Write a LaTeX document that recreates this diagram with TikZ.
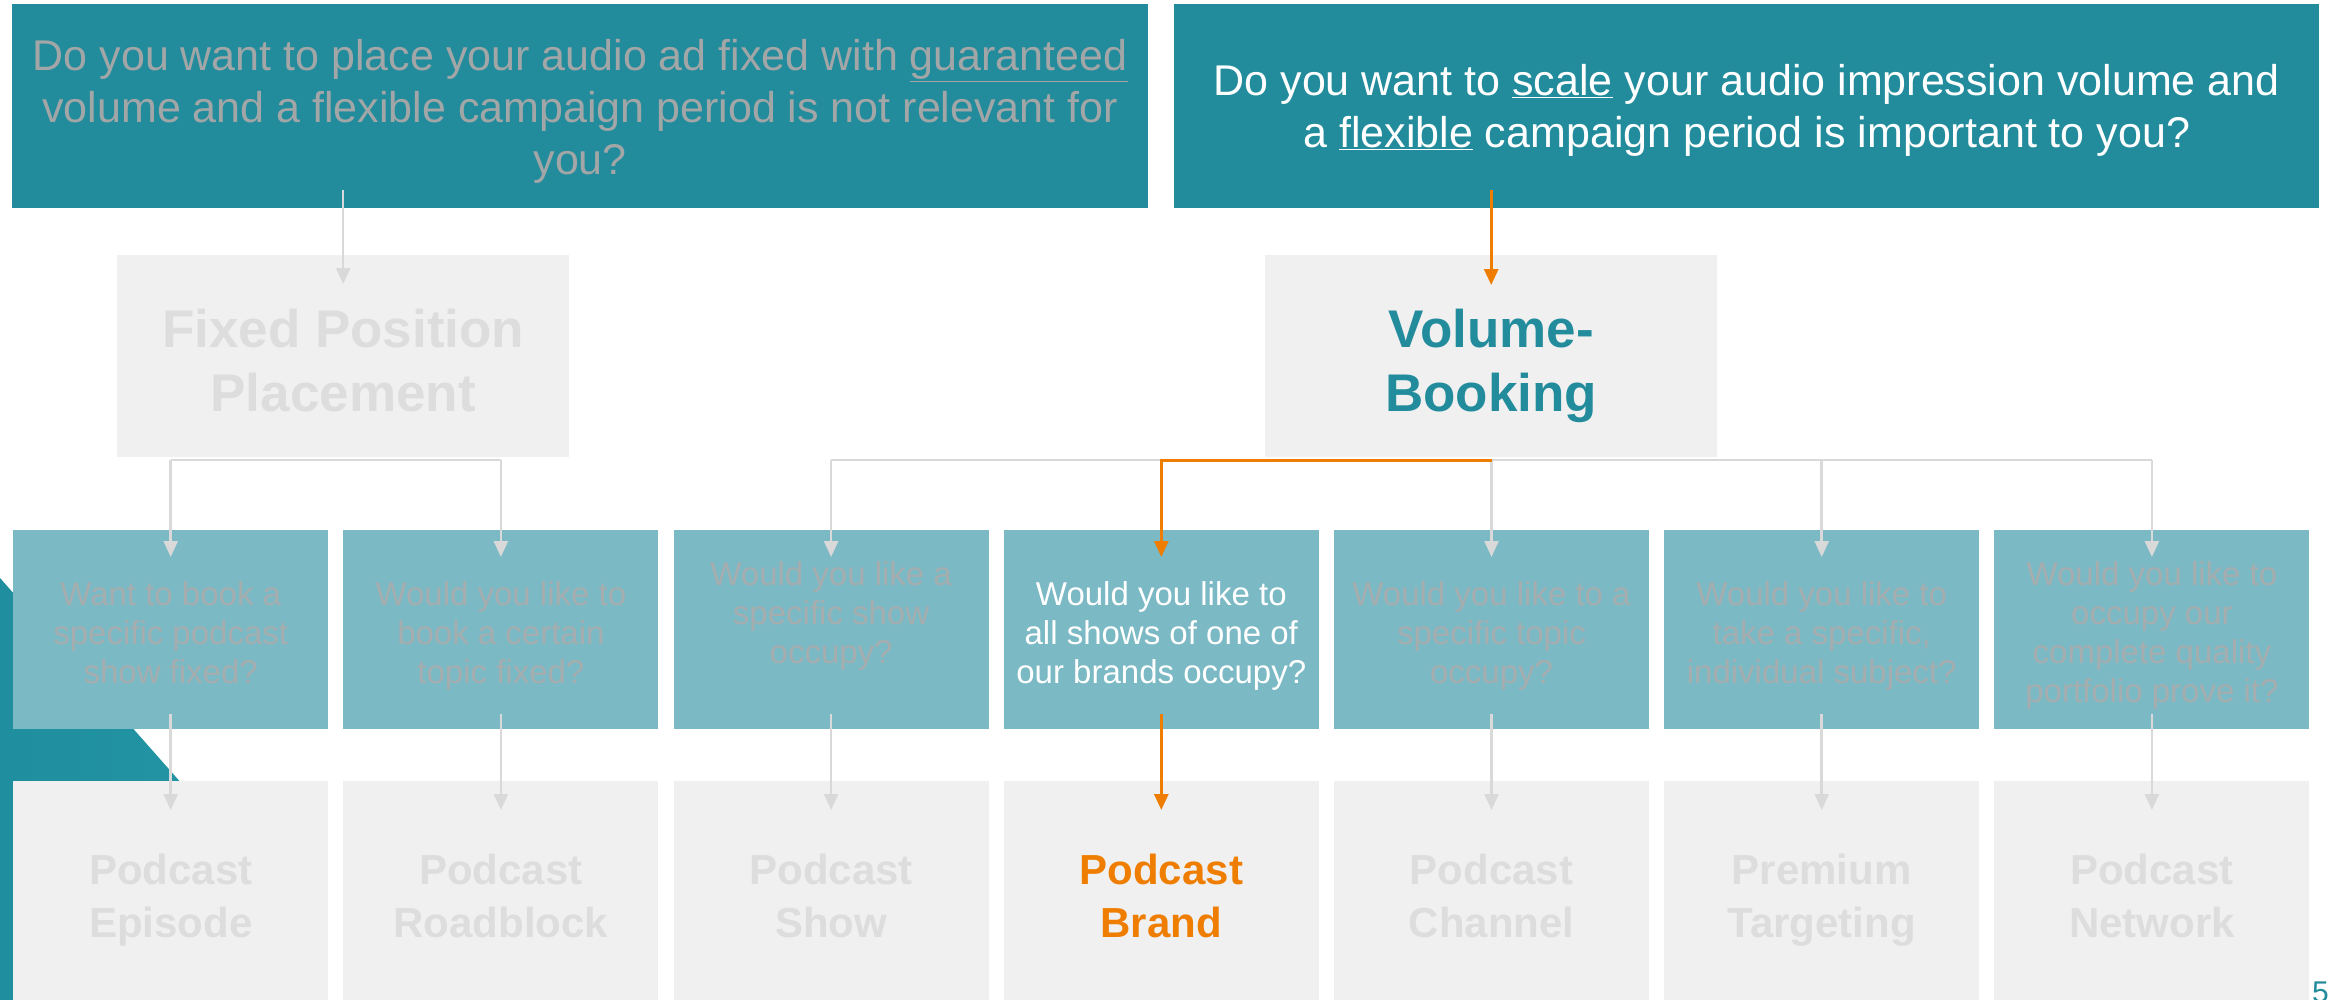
\documentclass[tikz,border=0pt]{standalone}
\usepackage{fontspec}
\setmainfont{Liberation Sans}
\usetikzlibrary{arrows.meta,calc}
\definecolor{tealdark}{HTML}{228C9C}
\definecolor{tealmid}{HTML}{7BB9C4}
\definecolor{tealtri}{HTML}{2498A8}
\definecolor{tealtrid}{HTML}{1F8E9E}
\definecolor{boxgray}{HTML}{F0F0F0}
\definecolor{fadetext}{HTML}{DDDDDD}
\definecolor{qgray}{HTML}{A2A6A7}
\definecolor{mgray}{HTML}{A6ADAF}
\definecolor{linegray}{HTML}{D9D9D9}
\definecolor{orangeA}{HTML}{EE7D00}
\def\ha{0pt}\def\da{0pt}
\newcommand\Hs{\rule{0pt}{\ha}}
\newcommand\Ds{\rule[-\da]{0pt}{\da}}
\begin{document}
\begin{tikzpicture}[x=1pt,y=-1pt,
  base/.style={rectangle,anchor=north west,inner sep=0pt,align=center},
  tshift/.style 2 args={execute at begin node={\def\ha{#1}\def\da{#2}}},
  topbox/.style={base,fill=tealdark,minimum height=204pt,font=\fontsize{43}{52}\selectfont},
  prodbox/.style={base,fill=boxgray,minimum width=452pt,minimum height=202pt,font=\fontsize{53}{64}\selectfont\bfseries,tshift={60pt}{14pt}},
  qbox/.style={base,fill=tealmid,minimum width=315pt,minimum height=199pt,text=mgray,font=\fontsize{33}{39}\selectfont,tshift={38pt}{9pt}},
  resbox/.style={base,fill=boxgray,minimum width=315pt,minimum height=228pt,text=fadetext,font=\fontsize{42}{53}\selectfont\bfseries,tshift={42pt}{11pt}},
  gline/.style={draw=linegray,line width=2.5pt},
  garr/.style={gline,-{Triangle[length=16pt,width=14pt]}},
  oline/.style={draw=orangeA,line width=3pt},
  oarr/.style={oline,-{Triangle[length=16pt,width=14pt]}}
]
\useasboundingbox (0,0) rectangle (2328,999);
\shade[left color=tealtrid,right color=tealtri] (0,578) -- (320,940) -- (320,1010) -- (0,1010) -- cycle;

% top questions
\node[topbox,minimum width=1136pt,text=qgray,tshift={44pt}{11pt}] (q1) at (12,4)
  {\Hs Do you want to place your audio ad fixed with \underline{guaranteed}\\
   volume and a flexible campaign period is not relevant for\\ you?\Ds};
\node[topbox,minimum width=1145pt,text=white,tshift={42pt}{11pt}] (q2) at (1174,4)
  {\Hs Do you want to \underline{scale} your audio impression volume and\\
   a \underline{flexible} campaign period is important to you?\Ds};

% products
\node[prodbox,text=fadetext] (fix) at (117,255) {\Hs Fixed Position\\Placement\Ds};
\node[prodbox,text=tealdark] (vol) at (1265,255) {\Hs Volume-\\Booking\Ds};

% middle questions
\node[qbox] (m0) at (13,530) {\Hs Want to book a\\specific podcast\\show fixed?\Ds};
\node[qbox] (m1) at (343.2,530) {\Hs Would you like to\\book a certain\\topic fixed?\Ds};
\node[qbox] (m2) at (673.4,530) {\Hs Would you like a\\specific show\\occupy?\\ ~\Ds};
\node[qbox,text=white] (m3) at (1003.6,530) {\Hs Would you like to\\all shows of one of\\our brands occupy?\Ds};
\node[qbox] (m4) at (1333.8,530) {\Hs Would you like to a\\specific topic\\occupy?\Ds};
\node[qbox] (m5) at (1664,530) {\Hs Would you like to\\take a specific,\\individual subject?\Ds};
\node[qbox] (m6) at (1994.2,530) {\Hs Would you like to\\occupy our\\complete quality\\portfolio prove it?\Ds};

% results
\node[resbox] (b0) at (13,781) {\Hs Podcast\\Episode\Ds};
\node[resbox] (b1) at (343.2,781) {\Hs Podcast\\Roadblock\Ds};
\node[resbox] (b2) at (673.4,781) {\Hs Podcast\\Show\Ds};
\node[resbox,text=orangeA] (b3) at (1003.6,781) {\Hs Podcast\\Brand\Ds};
\node[resbox] (b4) at (1333.8,781) {\Hs Podcast\\Channel\Ds};
\node[resbox] (b5) at (1664,781) {\Hs Premium\\Targeting\Ds};
\node[resbox] (b6) at (1994.2,781) {\Hs Podcast\\Network\Ds};

% bus coordinates
\foreach \i in {0,...,6}{
  \coordinate (bus\i) at ($(m\i.north)+(0,-70)$);
}

% top to product
\draw[garr] ($(q1.south -| fix.north)+(0,-18)$) -- ($(fix.north)+(0,29)$);
\draw[oarr] ($(q2.south -| vol.north)+(0,-18)$) -- ($(vol.north)+(0,30)$);

% fixed branches
\draw[gline] (bus0) -- (bus1);
\draw[garr] (bus0) -- ($(m0.north)+(0,27)$);
\draw[garr] (bus1) -- ($(m1.north)+(0,27)$);

% volume branches
\draw[gline] (bus2) -- (bus6);
\foreach \i in {2,4,5,6}{
  \draw[garr] (bus\i) -- ($(m\i.north)+(0,27)$);
}
\draw[oarr,line join=miter] (bus4) -- (bus3) -- ($(m3.north)+(0,27)$);

% question to result
\foreach \i in {0,1,2,4,5,6}{
  \draw[garr] ($(m\i.south)+(0,-15)$) -- ($(b\i.north)+(0,29)$);
}
\draw[oarr] ($(m3.south)+(0,-15)$) -- ($(b3.north)+(0,29)$);

% page number
\node[anchor=north west,inner sep=0pt,text=tealdark,font=\fontsize{30}{36}\selectfont] (pg) at (2312,982) {54};
\end{tikzpicture}
\end{document}
